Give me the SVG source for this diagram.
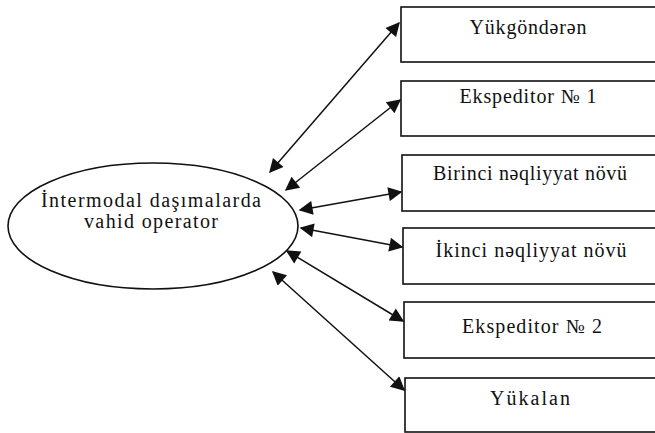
<svg xmlns="http://www.w3.org/2000/svg" width="655" height="433" viewBox="0 0 655 433">
<style>
.box{fill:#fff;stroke:#111;stroke-width:1.6}
.lbl{font-family:"Liberation Serif",serif;font-size:20px;fill:#111;text-anchor:middle}
.ln{stroke:#111;stroke-width:1.5;fill:none;marker-start:url(#ah);marker-end:url(#ah)}
</style>
<defs>
<marker id="ah" viewBox="0 0 10 10" refX="9" refY="5" markerWidth="18" markerHeight="14" markerUnits="userSpaceOnUse" orient="auto-start-reverse">
<path d="M0,0 L10,5 L0,10 z" fill="#111"/>
</marker>
</defs>
<rect width="655" height="433" fill="#fff"/>
<g id="operator">
<ellipse cx="153" cy="226" rx="145" ry="63" fill="#fff" stroke="#111" stroke-width="1.6"/>
<text class="lbl" x="151" y="207" textLength="220">İntermodal daşımalarda</text>
<text class="lbl" x="151" y="228" textLength="134">vahid operator</text>
</g>
<g id="n1"><rect class="box" x="401" y="7" width="260" height="55"/><text class="lbl" x="528" y="34" textLength="117">Yükgöndərən</text></g>
<g id="n2"><rect class="box" x="401" y="81" width="260" height="55"/><text class="lbl" x="528" y="103" textLength="137">Ekspeditor № 1</text></g>
<g id="n3"><rect class="box" x="402" y="155" width="260" height="56"/><text class="lbl" x="530" y="180" textLength="194">Birinci nəqliyyat növü</text></g>
<g id="n4"><rect class="box" x="403" y="228" width="260" height="56"/><text class="lbl" x="531" y="257" textLength="191">İkinci nəqliyyat növü</text></g>
<g id="n5"><rect class="box" x="404" y="302" width="260" height="56"/><text class="lbl" x="532" y="333" textLength="140">Ekspeditor № 2</text></g>
<g id="n6"><rect class="box" x="405" y="378" width="260" height="54"/><text class="lbl" x="530" y="405" textLength="80">Yükalan</text></g>
<g id="connectors">
<line class="ln" x1="270" y1="172" x2="399" y2="23"/>
<line class="ln" x1="286" y1="190" x2="400" y2="100"/>
<line class="ln" x1="300" y1="210" x2="401" y2="192"/>
<line class="ln" x1="301" y1="228" x2="402" y2="247"/>
<line class="ln" x1="287" y1="251" x2="403" y2="321"/>
<line class="ln" x1="273" y1="272" x2="404" y2="390"/>
</g>
</svg>
